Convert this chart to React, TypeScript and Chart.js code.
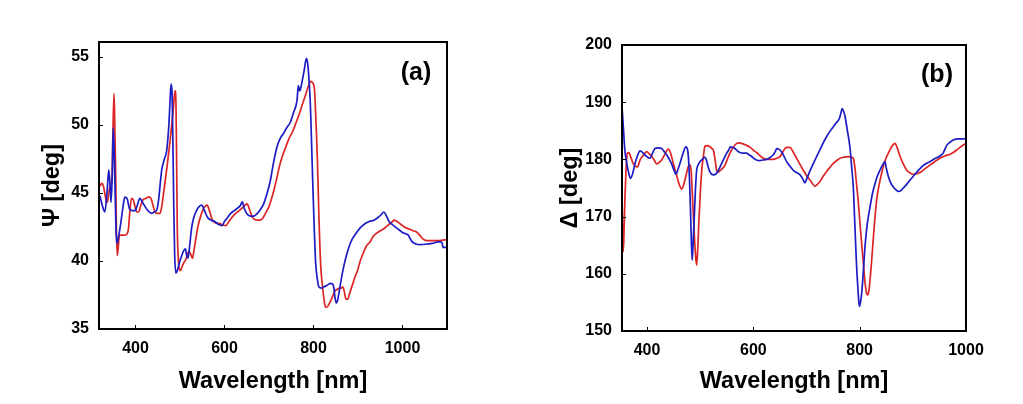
import React, { useEffect, useRef } from "react";
import { Chart, registerables } from "chart.js";

Chart.register(...registerables);

// ---------- Panel (a): Psi ----------
const psiWlBlue = [320, 326, 331, 336, 340, 343, 345, 348, 350, 353, 356, 358, 362, 367, 372, 376, 381, 387, 393, 399, 404, 410, 416, 421.5, 428, 436, 442, 447, 452, 455, 459, 465, 470, 475, 478, 480, 482, 484, 486, 488, 491, 494, 499, 504, 509, 512, 515, 518, 522, 526, 531, 537, 543, 549, 555, 562, 570, 578, 586, 594, 600, 607, 614, 622, 630, 636, 640, 644, 650, 658, 666, 674, 681, 688, 695, 703, 710, 718, 725, 733, 740, 748, 755, 763, 766, 769, 772, 775, 779, 784, 787, 790, 793, 797, 801, 805, 809, 812, 818, 823, 830, 838, 843, 846, 848, 851, 854, 857, 862, 868, 874, 880, 887, 895, 904, 914, 925, 936, 945, 952, 958, 964, 970, 980, 992, 1000, 1007, 1013, 1018, 1022, 1030, 1041, 1055, 1067, 1080, 1086, 1089, 1091, 1100];
const psiBlue = [44.8, 44.0, 43.6, 45.0, 46.7, 45.5, 44.3, 46.5, 49.8, 47.0, 42.5, 41.3, 41.8, 42.8, 44.0, 44.7, 44.6, 43.8, 43.7, 43.7, 44.1, 44.6, 44.3, 44.0, 43.7, 43.5, 43.6, 43.7, 44.5, 45.5, 46.7, 47.5, 48.1, 50.0, 52.0, 53.0, 52.5, 49.0, 44.0, 40.5, 39.1, 39.3, 39.9, 40.4, 40.8, 40.9, 40.4, 40.2, 41.2, 42.4, 43.2, 43.7, 44.0, 44.1, 43.7, 43.2, 43.0, 42.9, 42.7, 42.6, 42.9, 43.2, 43.5, 43.7, 43.9, 44.1, 44.35, 43.9, 43.5, 43.3, 43.3, 43.5, 43.8, 44.2, 44.9, 45.9, 47.2, 48.4, 49.0, 49.4, 49.8, 50.2, 50.9, 51.8, 52.9, 52.5, 52.8, 53.3, 54.0, 54.9, 54.5, 53.3, 51.5, 47.2, 43.0, 39.8, 38.6, 38.1, 38.0, 38.1, 38.2, 38.35, 38.3, 38.0, 37.4, 36.9, 37.1, 37.6, 38.6, 39.6, 40.4, 41.05, 41.6, 42.0, 42.4, 42.7, 42.9, 43.0, 43.2, 43.4, 43.6, 43.3, 42.9, 42.6, 42.3, 42.1, 42.0, 41.9, 41.6, 41.4, 41.25, 41.2, 41.25, 41.3, 41.4, 41.4, 41.3, 41.0, 41.0];

const psiWlRed = [320, 324, 328, 332, 335, 338, 340, 344, 347, 349, 351.7, 353.5, 355.5, 357, 359, 361, 363, 366, 371, 376, 381, 384, 387, 391, 395, 399, 403, 407, 412, 417, 423, 428, 432, 436, 440, 444, 448, 455, 459, 462, 466, 470, 474, 478, 482, 485, 487, 489, 491, 492.5, 494, 496, 498, 501, 505, 509, 513, 517, 520, 524, 528, 531, 535, 540, 546, 551, 556, 561, 566, 573, 580, 588, 596, 603, 610, 618, 625, 633, 640, 646, 651, 656, 662, 668, 674, 680, 685, 692, 700, 705, 711, 717, 723, 730, 738, 745, 753, 760, 768, 775, 783, 789, 794, 798, 802, 804, 806.5, 809, 812, 816, 820, 824, 827, 830, 836, 843, 848, 853, 858, 862, 866, 869, 873, 877, 881, 888, 894, 899, 905, 912, 918, 927, 934, 940, 949, 957, 963, 970, 976, 981, 988, 996, 1004, 1015, 1025, 1031, 1040, 1045, 1054, 1067, 1080, 1095, 1100];
const psiRed = [45.5, 45.7, 45.5, 44.8, 44.3, 44.5, 45.0, 45.6, 46.0, 49.0, 52.3, 50.0, 46.4, 42.5, 40.4, 40.9, 41.7, 41.9, 41.9, 41.9, 42.0, 42.3, 43.5, 44.6, 44.5, 44.0, 43.6, 43.6, 44.1, 44.5, 44.6, 44.7, 44.7, 44.5, 44.0, 43.6, 43.5, 43.5, 44.0, 44.7, 45.7, 46.7, 47.8, 48.9, 50.2, 51.2, 52.0, 52.5, 51.5, 47.0, 42.3, 40.3, 39.5, 39.3, 39.6, 39.9, 40.1, 40.5, 40.7, 40.5, 40.2, 40.7, 41.5, 42.5, 43.25, 43.7, 44.0, 44.1, 43.7, 43.0, 42.8, 42.76, 42.65, 42.6, 42.9, 43.25, 43.5, 43.7, 43.9, 44.1, 44.2, 43.8, 43.25, 43.05, 43.0, 43.0, 43.1, 43.5, 44.0, 44.5, 45.2, 46.0, 46.9, 47.7, 48.4, 49.0, 49.5, 50.1, 50.8, 51.5, 52.3, 52.9, 53.2, 53.1, 52.7, 51.5, 49.5, 47.2, 43.5, 39.8, 38.2, 37.1, 36.6, 36.6, 36.9, 37.4, 37.8, 37.9, 38.0, 38.0, 38.1, 37.8, 37.2, 37.2, 37.6, 38.3, 38.9, 39.3, 40.0, 40.6, 41.05, 41.4, 41.8, 42.0, 42.2, 42.35, 42.5, 42.7, 42.85, 43.0, 42.9, 42.7, 42.5, 42.35, 42.2, 42.15, 41.85, 41.65, 41.5, 41.5, 41.5, 41.55, 41.6];

const psiXTicks = [400, 600, 800, 1000];
const psiYTicks = [35, 40, 45, 50, 55];

// ---------- Panel (b): Delta ----------
const deltaWlBlue = [353, 355.5, 358, 362, 366, 369, 373, 377.5, 382, 387, 392, 396, 401, 405.7, 410, 415, 421, 427.6, 432, 437, 442, 446, 450, 454.6, 458, 462, 467, 473, 476.5, 478.5, 480.5, 482, 483.5, 485, 487, 489, 491, 493.4, 496, 499.7, 504, 509, 512, 515, 518, 521.6, 526, 531, 536, 540.5, 545, 550, 554, 557, 561, 565.5, 570, 575, 581, 587.5, 592, 597, 602, 606, 612, 618, 625, 631, 637.6, 641, 644, 648, 653, 658, 662.7, 669, 675, 681, 688, 693, 697, 700, 703.5, 708, 713, 719, 725, 731, 738, 744, 750.5, 756, 762, 765, 767, 769.5, 772.5, 777, 782, 785, 788, 791, 794, 797, 799.4, 801.5, 803.8, 807, 810, 814, 819.5, 824, 829, 833, 838, 843, 847.6, 850, 854, 858, 863, 868, 873, 877, 882, 888, 895, 904, 913.5, 922, 932, 941, 951, 957, 960, 964, 970, 976, 985, 992, 1000];
const deltaBlue = [189.2, 185.7, 182.0, 179.3, 177.5, 176.7, 177.5, 179.3, 180.6, 181.5, 181.2, 180.8, 180.4, 180.2, 181.0, 181.9, 182.0, 181.9, 181.4, 180.8, 180.0, 179.3, 178.3, 177.4, 178.2, 179.3, 180.8, 182.2, 181.6, 179.5, 175.0, 170.6, 165.5, 162.4, 166.0, 170.0, 174.5, 178.1, 179.0, 179.6, 180.0, 180.4, 179.8, 178.7, 177.9, 177.4, 177.3, 177.6, 178.4, 179.3, 180.2, 181.1, 181.7, 182.2, 182.1, 181.9, 181.5, 181.2, 181.1, 181.1, 180.8, 180.5, 180.1, 179.9, 179.8, 179.9, 180.0, 180.3, 180.8, 181.3, 181.9, 181.8, 181.35, 180.5, 179.6, 178.8, 178.1, 177.7, 177.3, 176.6, 175.9, 176.5, 177.3, 178.3, 179.3, 180.5, 181.6, 182.8, 184.0, 184.9, 185.7, 186.4, 187.2, 188.2, 188.9, 188.5, 187.5, 185.0, 181.9, 178.6, 175.2, 168.5, 161.8, 157.0, 154.3, 155.0, 156.6, 160.5, 164.7, 168.5, 171.7, 174.0, 175.8, 177.0, 178.1, 179.0, 179.6, 178.5, 177.0, 176.0, 175.2, 174.7, 174.4, 174.5, 175.0, 175.6, 176.4, 177.4, 178.4, 179.1, 179.6, 180.1, 180.6, 181.1, 181.7, 182.5, 183.0, 183.4, 183.6, 183.6, 183.6];

const deltaWlRed = [353, 354, 355.5, 357, 358.6, 360.5, 363, 366, 368, 371, 374, 378, 382, 384.5, 387, 393, 399.6, 404, 409, 414, 418, 422, 427.6, 433, 437, 440, 444, 449.5, 454, 459, 462, 465, 468, 473, 476, 479, 481, 483, 485, 487, 489.5, 491.5, 493.4, 495.5, 498, 500.5, 503, 506, 509, 513, 518.5, 522, 525, 528, 531, 534, 537, 542, 546.7, 551, 556, 562, 568.7, 573, 578, 586, 594, 600, 606, 612, 619, 628, 637.6, 644, 650, 655, 659.5, 664, 669, 675, 681.5, 688, 694, 700, 706.6, 711, 716, 720, 725, 731, 738, 744, 750.5, 757, 763, 771, 778.7, 784, 788, 791, 794, 797.5, 800.6, 804, 807, 810, 813, 815, 817.6, 821, 824.5, 828, 832, 836.5, 841.4, 846, 851, 856, 860, 866.5, 870, 876, 882, 888.5, 895, 901, 907, 913.5, 922, 932, 941, 951, 960, 970, 976, 982, 990, 1000];
const deltaRed = [174.7, 167.7, 163.9, 168.0, 173.5, 178.0, 181.1, 181.2, 180.8, 180.0, 179.3, 178.8, 178.7, 179.2, 179.9, 180.7, 181.35, 181.0, 180.5, 179.8, 179.2, 179.4, 179.9, 180.8, 181.5, 181.8, 181.2, 179.3, 177.8, 176.1, 175.3, 174.8, 175.3, 177.0, 178.2, 179.0, 179.0, 178.1, 174.5, 170.6, 166.0, 163.0, 161.5, 164.5, 170.0, 174.5, 178.1, 180.5, 182.3, 182.4, 182.2, 181.9, 181.6, 180.0, 178.1, 177.8, 178.0, 178.4, 179.0, 180.0, 181.1, 182.1, 182.8, 182.9, 182.8, 182.5, 182.1, 181.6, 181.2, 180.7, 180.2, 180.0, 180.0, 180.2, 180.5, 181.2, 181.9, 182.1, 182.1, 181.3, 180.2, 179.1, 178.1, 177.2, 176.4, 175.8, 175.3, 175.6, 176.1, 177.0, 177.9, 178.6, 179.3, 179.8, 180.2, 180.4, 180.5, 180.4, 180.2, 178.6, 175.8, 172.5, 168.8, 165.0, 161.8, 158.6, 156.6, 156.3, 157.2, 160.5, 164.7, 169.0, 172.9, 175.5, 177.6, 179.3, 180.5, 181.5, 182.2, 182.8, 182.2, 180.5, 179.2, 178.1, 177.6, 177.4, 177.5, 177.7, 178.3, 179.0, 179.6, 180.2, 180.6, 180.9, 181.2, 181.6, 182.2, 182.8];

const deltaXTicks = [400, 600, 800, 1000];
const deltaYTicks = [150, 160, 170, 180, 190, 200];

const BLUE = "#1c1cc4";
const RED = "#dc2424";
const FONT = "Arial, 'Liberation Sans', sans-serif";

const framePlugin = {
  id: "frame",
  afterDatasetsDraw(chart: any, _args: any, opts: any) {
    const { ctx, chartArea, scales } = chart;
    const { left, top, right, bottom } = chartArea;
    ctx.save();
    ctx.strokeStyle = "#000";
    ctx.lineWidth = 1;
    scales.x.ticks.forEach((t: any) => {
      const px = Math.round(scales.x.getPixelForValue(t.value)) + 0.5;
      ctx.beginPath();
      ctx.moveTo(px, bottom);
      ctx.lineTo(px, bottom - 4);
      ctx.stroke();
    });
    scales.y.ticks.forEach((t: any) => {
      const py = Math.round(scales.y.getPixelForValue(t.value)) + 0.5;
      ctx.beginPath();
      ctx.moveTo(left, py);
      ctx.lineTo(left + 4, py);
      ctx.stroke();
    });
    ctx.lineWidth = 2;
    ctx.strokeRect(left, top, right - left, bottom - top);
    ctx.fillStyle = "#000";
    ctx.font = `bold 25px ${FONT}`;
    ctx.textAlign = "center";
    ctx.textBaseline = "middle";
    ctx.fillText(opts.label, right + opts.dx, top + opts.dy);
    ctx.restore();
  },
};

function toPts(xs: number[], ys: number[]) {
  return xs.map((x, i) => ({ x, y: ys[i] }));
}

interface PanelProps {
  width: number;
  height: number;
  blue: { x: number; y: number }[];
  red: { x: number; y: number }[];
  xMin: number;
  xMax: number;
  yMin: number;
  yMax: number;
  xTicks: number[];
  yTicks: number[];
  yTitle: string;
  yWidth: number;
  yTitlePad: number;
  xHeight: number;
  pad: { top: number; right: number };
  label: string;
  labelDx: number;
  labelDy: number;
}

function Panel(p: PanelProps) {
  const ref = useRef<HTMLCanvasElement>(null);
  useEffect(() => {
    if (!ref.current) return;
    const chart = new Chart(ref.current, {
      type: "line",
      data: {
        datasets: [
          {
            data: p.blue,
            borderColor: BLUE,
            borderWidth: 1.7,
            pointRadius: 0,
            cubicInterpolationMode: "monotone",
            fill: false,
          },
          {
            data: p.red,
            borderColor: RED,
            borderWidth: 1.7,
            pointRadius: 0,
            cubicInterpolationMode: "monotone",
            fill: false,
          },
        ],
      },
      options: {
        animation: false,
        responsive: false,
        devicePixelRatio: 1,
        layout: { padding: { top: p.pad.top, right: p.pad.right, left: 0, bottom: 0 } },
        plugins: {
          legend: { display: false },
          tooltip: { enabled: false },
          frame: { label: p.label, dx: p.labelDx, dy: p.labelDy },
        } as any,
        scales: {
          x: {
            type: "linear",
            min: p.xMin,
            max: p.xMax,
            grid: { display: false, drawTicks: false },
            border: { display: false },
            ticks: {
              color: "#000",
              padding: 10,
              maxRotation: 0,
              font: { family: FONT, size: 16, weight: "bold" },
              callback: (v: any) => String(v),
            },
            afterBuildTicks: (s: any) => {
              s.ticks = p.xTicks.map((v) => ({ value: v }));
            },
            afterFit: (s: any) => {
              s.height = p.xHeight;
            },
            title: {
              display: true,
              text: "Wavelength [nm]",
              color: "#000",
              padding: { top: 0, bottom: 8 },
              font: { family: FONT, size: 23.5, weight: "bold" },
            },
          },
          y: {
            type: "linear",
            min: p.yMin,
            max: p.yMax,
            grid: { display: false, drawTicks: false },
            border: { display: false },
            ticks: {
              color: "#000",
              padding: 10,
              font: { family: FONT, size: 16, weight: "bold" },
              callback: (v: any) => String(v),
            },
            afterBuildTicks: (s: any) => {
              s.ticks = p.yTicks.map((v) => ({ value: v }));
            },
            afterFit: (s: any) => {
              s.width = p.yWidth;
            },
            title: {
              display: true,
              text: p.yTitle,
              color: "#000",
              padding: { top: p.yTitlePad, bottom: 0 },
              font: { family: FONT, size: 23.5, weight: "bold" },
            },
          },
        },
      },
      plugins: [framePlugin as any],
    });
    return () => chart.destroy();
  }, []);
  return <canvas ref={ref} width={p.width} height={p.height} style={{ display: "block" }} />;
}

export default function App() {
  return (
    <div
      style={{
        position: "fixed",
        left: 0,
        top: 0,
        width: 1023,
        height: 404,
        background: "#fff",
      }}
    >
      <div style={{ position: "absolute", left: 0, top: 0 }}>
        <Panel
          width={511}
          height={404}
          blue={toPts(psiWlBlue, psiBlue)}
          red={toPts(psiWlRed, psiRed)}
          xMin={318}
          xMax={1100}
          yMin={35}
          yMax={56.1}
          xTicks={psiXTicks}
          yTicks={psiYTicks}
          yTitle="Ψ [deg]"
          yWidth={99}
          yTitlePad={38}
          xHeight={75}
          pad={{ top: 42, right: 64 }}
          label="(a)"
          labelDx={-31}
          labelDy={31}
        />
      </div>
      <div style={{ position: "absolute", left: 511, top: 0 }}>
        <Panel
          width={512}
          height={404}
          blue={toPts(deltaWlBlue, deltaBlue)}
          red={toPts(deltaWlRed, deltaRed)}
          xMin={353}
          xMax={1000}
          yMin={150}
          yMax={200}
          xTicks={deltaXTicks}
          yTicks={deltaYTicks}
          yTitle="Δ [deg]"
          yWidth={111}
          yTitlePad={45}
          xHeight={73}
          pad={{ top: 45, right: 57 }}
          label="(b)"
          labelDx={-29}
          labelDy={30}
        />
      </div>
    </div>
  );
}
